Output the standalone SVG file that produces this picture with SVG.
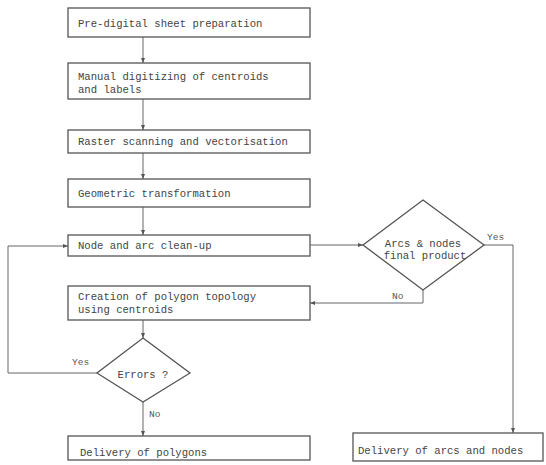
<svg xmlns="http://www.w3.org/2000/svg" width="546" height="465" viewBox="0 0 546 465">
<defs>
<marker id="ah" viewBox="0 0 10 10" refX="10" refY="5" markerWidth="5" markerHeight="5" orient="auto" markerUnits="userSpaceOnUse">
<path d="M0,1 L10,5 L0,9 z" fill="#555"/>
</marker>
<style>
.box{fill:#fff;stroke:#555;stroke-width:1.3}
.ln{fill:none;stroke:#666;stroke-width:1}
.t{font-family:"Liberation Mono","DejaVu Sans Mono",monospace;font-size:10.6px;fill:#444}
.s{font-family:"Liberation Mono","DejaVu Sans Mono",monospace;font-size:9.5px;fill:#555}
</style>
</defs>
<rect width="546" height="465" fill="#fff"/>
<g id="connectors">
<line class="ln" x1="143" y1="37" x2="143" y2="63" marker-end="url(#ah)"/>
<line class="ln" x1="143" y1="99" x2="143" y2="130" marker-end="url(#ah)"/>
<line class="ln" x1="143" y1="153" x2="143" y2="179" marker-end="url(#ah)"/>
<line class="ln" x1="143" y1="207" x2="143" y2="235" marker-end="url(#ah)"/>
<line class="ln" x1="310" y1="245" x2="363" y2="245" marker-end="url(#ah)"/>
<polyline class="ln" points="423,290 423,303 310,303" marker-end="url(#ah)"/>
<polyline class="ln" points="484,245 513,245 513,433" marker-end="url(#ah)"/>
<line class="ln" x1="143" y1="320" x2="143" y2="338" marker-end="url(#ah)"/>
<polyline class="ln" points="97,373 8,373 8,246 68,246" marker-end="url(#ah)"/>
<line class="ln" x1="143" y1="402" x2="143" y2="436" marker-end="url(#ah)"/>
<text class="s" x="72" y="365">Yes</text>
<text class="s" x="149" y="417">No</text>
<text class="s" x="487" y="240">Yes</text>
<text class="s" x="392" y="299">No</text>
</g>
<g id="n1"><rect class="box" x="68" y="8" width="242" height="29"/><text class="t" x="78" y="27">Pre-digital sheet preparation</text></g>
<g id="n2"><rect class="box" x="68" y="63" width="242" height="36"/><text class="t" x="78" y="80">Manual digitizing of centroids</text><text class="t" x="78" y="93">and labels</text></g>
<g id="n3"><rect class="box" x="68" y="130" width="242" height="23"/><text class="t" x="78" y="145">Raster scanning and vectorisation</text></g>
<g id="n4"><rect class="box" x="68" y="179" width="242" height="28"/><text class="t" x="78" y="197">Geometric transformation</text></g>
<g id="n5"><rect class="box" x="68" y="235" width="242" height="21"/><text class="t" x="78" y="249">Node and arc clean-up</text></g>
<g id="n6"><rect class="box" x="68" y="286" width="242" height="34"/><text class="t" x="78" y="300">Creation of polygon topology</text><text class="t" x="78" y="313">using centroids</text></g>
<g id="d1"><polygon class="box" points="143,338 190,373 143,402 97,373"/><text class="t" x="143" y="378" text-anchor="middle">Errors ?</text></g>
<g id="n7"><rect class="box" x="68" y="436" width="242" height="24"/><text class="t" x="80" y="456">Delivery of polygons</text></g>
<g id="d2"><polygon class="box" points="423,200 484,245 423,290 363,245"/><text class="t" x="423" y="247" text-anchor="middle">Arcs &amp; nodes</text><text class="t" x="425" y="259" text-anchor="middle">final product</text></g>
<g id="n8"><rect class="box" x="353" y="433" width="190" height="28"/><text class="t" x="358" y="454">Delivery of arcs and nodes</text></g>
</svg>
